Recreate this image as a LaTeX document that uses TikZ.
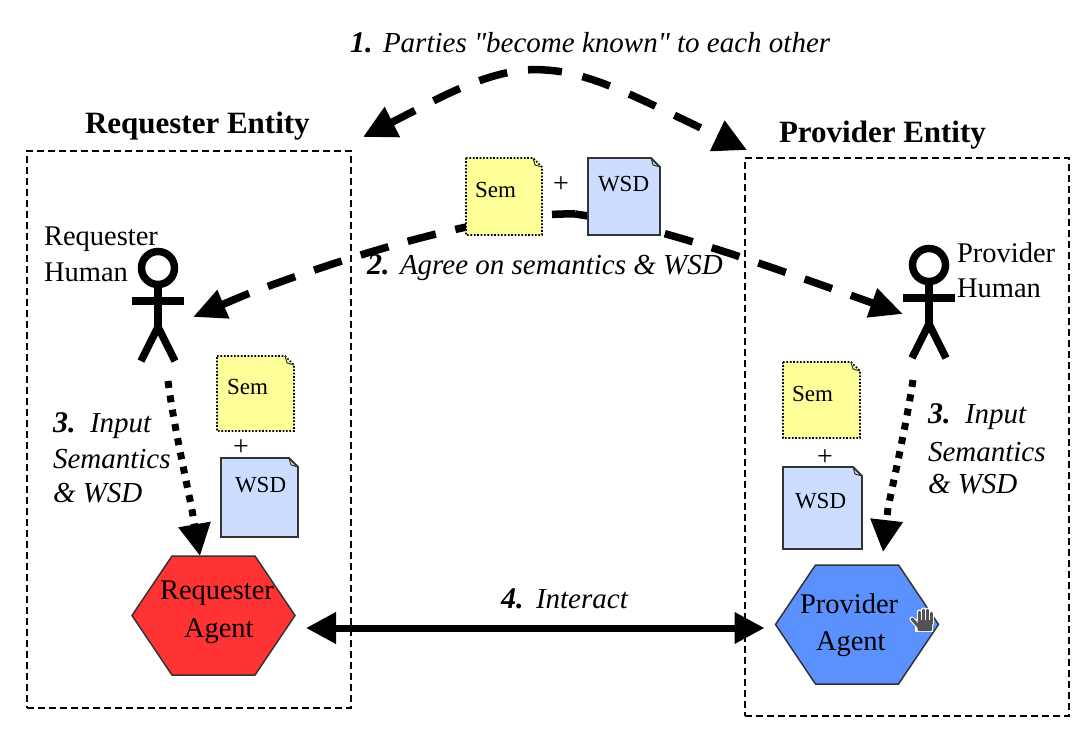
\documentclass[tikz,border=0pt]{standalone}
\usepackage{fontspec}
\setmainfont{Liberation Serif}
\newfontfamily\rawserif{Liberation Serif}
\usetikzlibrary{arrows.meta,calc}
\tikzset{
  x=1pt,y=-1pt,
  txt/.style={inner sep=0pt,outer sep=0pt,anchor=base west,text=black,font=\fontsize{28.5}{28.5}\selectfont},
  itxt/.style={txt,font=\fontsize{29}{29}\selectfont\itshape},
  num/.style={txt,font=\fontsize{30}{30}\selectfont\bfseries\itshape},
  headtxt/.style={txt,font=\fontsize{31}{31}\selectfont\bfseries},
  doctxt/.style={txt,font=\fontsize{23}{23}\selectfont},
  plus/.style={inner sep=0pt,font=\fontsize{28}{28}\selectfont},
  docbox/.style={inner sep=0pt,outer sep=0pt},
  entity/.style={draw=black,line width=1.3pt,dash pattern=on 7pt off 4pt},
  semshape/.style={fill=semyellow,draw=black,line width=1.6pt,dash pattern=on 1.7pt off 1.7pt},
  wsdshape/.style={fill=wsdblue,draw=black!80,line width=1.8pt},
  known/.style={line width=7.5pt,dash pattern=on 29pt off 21pt,-{Triangle[length=33pt,width=32pt]}},
  agree/.style={line width=7.5pt,dash pattern=on 29pt off 20pt,-{Triangle[length=33pt,width=29pt]}},
  inputarrow/.style={line width=7pt,dash pattern=on 7pt off 7.5pt,-{Triangle[length=32pt,width=31pt]}},
  interact/.style={line width=7pt,{Triangle[length=30pt,width=30pt]}-{Triangle[length=30pt,width=30pt]},shorten <=11pt,shorten >=11pt},
  person/.style={line width=7.5pt,draw=black},
  hexbox/.style={inner sep=0pt,outer sep=0pt,minimum width=163pt,minimum height=119pt},
  hexline/.style={draw=black!80,line width=1.5pt},
  handline/.style={line cap=round,line width=3pt,draw=black!68},
  handrim/.style={line cap=round,line width=5pt,draw=white}
}
\definecolor{semyellow}{HTML}{FFFF99}
\definecolor{wsdblue}{HTML}{CCDDFF}
\definecolor{reqred}{HTML}{FF3333}
\definecolor{provblue}{HTML}{5B91FF}
\newcommand{\docshape}[2]{%
  \path[#2] (#1.north west) -- ($(#1.north east)+(-9,0)$) -- ($(#1.north east)+(0,9)$) -- (#1.south east) -- (#1.south west) -- cycle;
  \draw[black!80,line width=1pt] ($(#1.north east)+(-9,0)$) -- ($(#1.north east)+(-7,7)$) -- ($(#1.north east)+(0,9)$);}
\newcommand{\hexshape}[2]{%
  \path[hexline,fill=#2] (#1.west) -- ($(#1.north west)+(40,0)$) -- ($(#1.north east)+(-40,0)$) -- (#1.east) -- ($(#1.south east)+(-40,0)$) -- ($(#1.south west)+(40,0)$) -- cycle;}
\newcommand{\stickman}[2]{%
  \node[person,draw,circle,minimum size=33pt,inner sep=0pt,outer sep=0pt] (#1head) at #2 {};
  \coordinate (#1hip) at ($(#1head.center)+(0,59)$);
  \draw[person] (#1head.south) -- (#1hip);
  \draw[person] ($(#1head.center)+(-26,33)$) -- ($(#1head.center)+(26,33)$);
  \draw[person] ($(#1hip)+(-17,34)$) -- (#1hip) -- ($(#1hip)+(17,34)$);}
\begin{document}
\begin{tikzpicture}
\useasboundingbox (0,0) rectangle (1087,730);
\fill[white] (0,0) rectangle (1087,730);
% named anchors
\coordinate (top) at (545,70);
\coordinate (knownLb) at (412,112);
\coordinate (knownL) at (363,137);
\coordinate (knownRb) at (703,129);
\coordinate (knownR) at (747,150);
\coordinate (mid) at (575,214);
\coordinate (agreeLb) at (245,295);
\coordinate (agreeL) at (193,317);
\coordinate (agreeRb) at (850,295);
\coordinate (agreeR) at (903,314);
\coordinate (inLs) at (168,381);
\coordinate (inLb) at (192,510);
\coordinate (inLe) at (200,556);
\coordinate (inRs) at (913,380);
\coordinate (inRb) at (888,508);
\coordinate (inRe) at (883,552);
\coordinate (rowfour) at (0,628);
% entity boxes
\node[entity,draw,inner sep=0pt,outer sep=0pt,minimum width=324pt,minimum height=557pt] (reqent) at (189,429.5) {};
\node[entity,draw,inner sep=0pt,outer sep=0pt,minimum width=324pt,minimum height=558pt] (provent) at (907,437) {};
% arrows 1, 2
\draw[known,dash phase=12pt] (top) .. controls (500,66) and (450,92) .. (knownLb) -- (knownL);
\draw[known,dash phase=12pt] (top) .. controls (590,72) and (640,99) .. (knownRb) -- (knownR);
\draw[agree,dash phase=6pt] (mid) .. controls (490,212) and (350,255) .. (agreeLb) -- (agreeL);
\draw[agree,dash phase=6pt] (mid) .. controls (660,226) and (770,267) .. (agreeRb) -- (agreeR);
% centre documents
\node[docbox,minimum width=76pt,minimum height=77pt] (semA) at (504,196.5) {};
\node[docbox,minimum width=72pt,minimum height=77pt] (wsdA) at (624,196.5) {};
\docshape{semA}{semshape}
\docshape{wsdA}{wsdshape}
\node[doctxt] (semAt) at (475,198) {Sem};
\node[doctxt] (wsdAt) at (598,192) {WSD};
\node[plus] (plusA) at (561,185) {+};
% humans
\stickman{hl}{(158,268)}
\stickman{hr}{(929,265)}
\node[txt] (rhuA) at (44,245) {Requester};
\node[txt] (rhuB) at (44,281) {Human};
\node[txt] (phuA) at (957,262) {Provider};
\node[txt] (phuB) at (957,297) {Human};
% input arrows
\draw[inputarrow] (inLs) .. controls (173,420) and (183,465) .. (inLb) -- (inLe);
\draw[inputarrow] (inRs) .. controls (907,420) and (897,465) .. (inRb) -- (inRe);
% left documents
\node[docbox,minimum width=77pt,minimum height=75pt] (semB) at (255.5,393.5) {};
\node[docbox,minimum width=77pt,minimum height=79pt] (wsdB) at (259.5,497.5) {};
\docshape{semB}{semshape}
\docshape{wsdB}{wsdshape}
\node[doctxt] (semBt) at (227,394) {Sem};
\node[doctxt] (wsdBt) at (235,492) {WSD};
\node[plus] (plusB) at (241,448) {+};
% right documents
\node[docbox,minimum width=77pt,minimum height=76pt] (semC) at (821.5,400) {};
\node[docbox,minimum width=79pt,minimum height=82pt] (wsdC) at (822.5,508) {};
\docshape{semC}{semshape}
\docshape{wsdC}{wsdshape}
\node[doctxt] (semCt) at (792,401) {Sem};
\node[doctxt] (wsdCt) at (795,508) {WSD};
\node[plus] (plusC) at (825,458) {+};
% agents
\node[hexbox] (ra) at (213.5,615.5) {};
\node[hexbox] (pa) at (857,624.5) {};
\hexshape{ra}{reqred}
\hexshape{pa}{provblue}
\node[txt] (raA) at (160,599) {Requester};
\node[txt] (raB) at (184,637) {Agent};
\node[txt] (paA) at (800,613) {Provider};
\node[txt] (paB) at (816,650) {Agent};
\draw[interact] (ra.east |- rowfour) -- (pa.west |- rowfour);
% headings and step labels
\node[headtxt] (reqh) at (85,134) {Requester Entity};
\node[headtxt] (provh) at (779,143) {Provider Entity};
\node[num] (n1) at (350,53) {1.};
\node[itxt] (t1) at (383,53) {\rawserif\itshape Parties "become known" to each other};
\node[num] (n2) at (367,274) {2.};
\node[itxt] (t2) at (400,274) {Agree on semantics \& WSD};
\node[num] (n3a) at (53,432) {3.};
\node[itxt] (t3a) at (90,432) {Input};
\node[itxt] (t3b) at (53,468) {Semantics};
\node[itxt] (t3c) at (53,502) {\& WSD};
\node[num] (n3r) at (928,423) {3.};
\node[itxt] (t3r) at (965,423) {Input};
\node[itxt] (t3s) at (928,461) {Semantics};
\node[itxt] (t3t) at (928,493) {\& WSD};
\node[num] (n4) at (501,608) {4.};
\node[itxt] (t4) at (536,608) {Interact};
% hand cursor
\draw[handrim] (912,619) -- (919,627);
\foreach \a/\b in {919/612,923/610,927/610,931/613}{\draw[handrim] (\a,\b) -- (\a,624);}
\fill[white] (915,619) rectangle (933,632);
\draw[handline] (912,619) -- (919,627);
\foreach \a/\b in {919/612,923/610,927/610,931/613}{\draw[handline] (\a,\b) -- (\a,624);}
\fill[black!68,rounded corners=1pt] (917.5,620) rectangle (932,631);
\end{tikzpicture}
\end{document}
